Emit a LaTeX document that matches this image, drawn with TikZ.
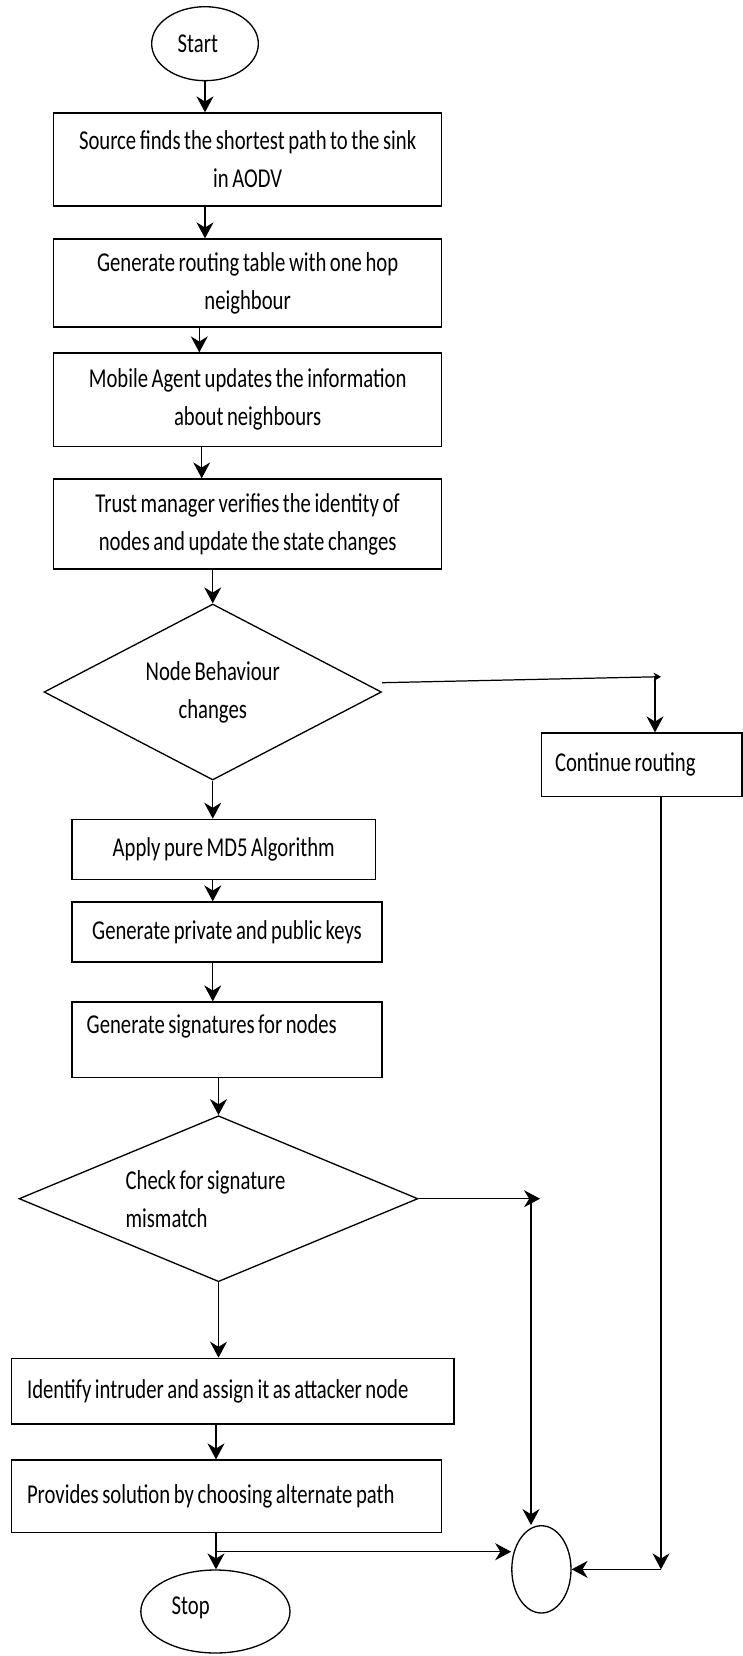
\documentclass[tikz,border=0pt]{standalone}
\usepackage{fontspec}
\setmainfont{Carlito}[FakeStretch=0.76,WordSpace=0.76]
\usetikzlibrary{shapes.geometric,arrows.meta}

\begin{document}
\begin{tikzpicture}[x=0.02cm,y=-0.02cm,font={\fontsize{15.5pt}{21.6pt}\selectfont}]
        \tikzset{
            blk/.style={
                draw,
                rectangle,
                line width=0.75pt,
                inner sep=0pt,
                align=center
            },
            blkl/.style={
                blk,
                align=flush left,
                text width=#1
            },
            dec/.style={
                draw,
                diamond,
                line width=0.75pt,
                inner sep=0pt,
                align=center,
                aspect=#1
            },
            term/.style={
                draw,
                ellipse,
                line width=0.75pt,
                align=flush left,
                text width=#1
            },
            arr/.style={
                line width=0.7pt,
                -{Stealth[length=0.32cm,width=0.34cm]}
            },
            arrs/.style={
                line width=0.7pt,
                -{Stealth[length=0.15cm,width=0.17cm]}
            }
        }
        \useasboundingbox (0,0) rectangle (743,1656);

        %coluna principal
        \node[term=1.092cm, minimum width=2.134cm, minimum height=1.48cm] (start) at (205,43.7) {Start};
        \node[blk, minimum width=7.762cm, minimum height=1.86cm] (src) at (247.65,159.5) {Source finds the shortest path to the sink\\in AODV};
        \node[blk, minimum width=7.762cm, minimum height=1.76cm] (rtab) at (247.65,283) {Generate routing table with one hop\\neighbour};
        \node[blk, minimum width=7.762cm, minimum height=1.874cm] (agent) at (247.65,399.85) {Mobile Agent updates the information\\about neighbours};
        \node[blk, minimum width=7.762cm, minimum height=1.8cm] (trust) at (247.65,524) {Trust manager verifies the identity of\\nodes and update the state changes};
        \node[dec=1.918, minimum width=6.75cm, minimum height=3.52cm] (behav) at (212.75,692) {Node Behaviour\\changes};

        \node[blk, minimum width=6.068cm, minimum height=1.2cm] (md5) at (223.7,849.3) {Apply pure MD5 Algorithm};
        \node[blk, minimum width=6.2cm, minimum height=1.2cm] (keys) at (227,932) {Generate private and public keys};
        \node[blkl=5.612cm, minimum width=6.2cm, minimum height=1.514cm, text height=0.4cm, text depth=0.64cm] (sign) at (227,1039.85) {Generate signatures for nodes};
        \node[dec=2.4, minimum width=7.98cm, minimum height=3.32cm, align=flush left, text width=3.716cm] (check) at (218.5,1198.7) {Check for signature\\mismatch};

        \node[blkl=8.228cm, minimum width=8.852cm, minimum height=1.314cm] (intr) at (232.7,1391.15) {Identify intruder and assign it as attacker node};
        \node[blkl=7.982cm, minimum width=8.606cm, minimum height=1.454cm] (alt) at (226.55,1496.35) {Provides solution by choosing alternate path};
        \node[term=1.752cm, minimum width=2.984cm, minimum height=1.66cm, text height=0.4cm, text depth=0.3cm] (stop) at (215.4,1611.5) {Stop};

        %lado direito
        \node[blkl=3.474cm, minimum width=4.006cm, minimum height=1.274cm] (cont) at (641.85,764.85) {Continue routing};
        \node[draw, ellipse, line width=0.75pt, minimum width=1.184cm, minimum height=1.746cm] (join) at (541.4,1569.35) {};

        \coordinate (turn1) at (661,676.7);
        \coordinate (drop1) at (655,677);
        \coordinate (turn2) at (540,1198.7);
        \coordinate (drop2) at (531,1198.7);
        \coordinate (split) at (216,1551.7);
        \coordinate (corner) at (661,1569.35);

        \draw[arr] (start.south) -- (start.south |- src.north);
        \draw[arr] (src.south -| start.south) -- (rtab.north -| start.south);
        \draw[arr] ([xshift=-0.114cm]rtab.south -| start.south) -- ([xshift=-0.114cm]agent.north -| start.south);
        \draw[arr] ([xshift=-0.066cm]agent.south -| start.south) -- ([xshift=-0.066cm]trust.north -| start.south);
        \draw[arr] (trust.south -| behav.north) -- (behav.north);

        \draw[arrs] ([yshift=0.186cm]behav.east) -- (turn1);
        \draw[arr] (drop1) -- (drop1 |- cont.north);

        \draw[arr] (behav.south) -- (behav.south |- md5.north);
        \draw[arr] (md5.south -| behav.south) -- (keys.north -| behav.south);
        \draw[arr] (keys.south -| behav.south) -- (sign.north -| behav.south);
        \draw[arr] (sign.south -| check.north) -- (check.north);

        \draw[arr] (check.east) -- (turn2);
        \draw[arr] (drop2) -- (drop2 |- join.north);

        \draw[arr] (check.south) -- (check.south |- intr.north);
        \draw[arr] (intr.south -| split) -- (alt.north -| split);
        \draw[arr] (alt.south -| split) -- (split |- stop.north);
        \draw[arr] (split) -- (split -| join.west);

        \draw[arr] (cont.south -| corner) -- (corner);
        \draw[arr] (corner) -- (join.east);

\end{tikzpicture}
\end{document}
